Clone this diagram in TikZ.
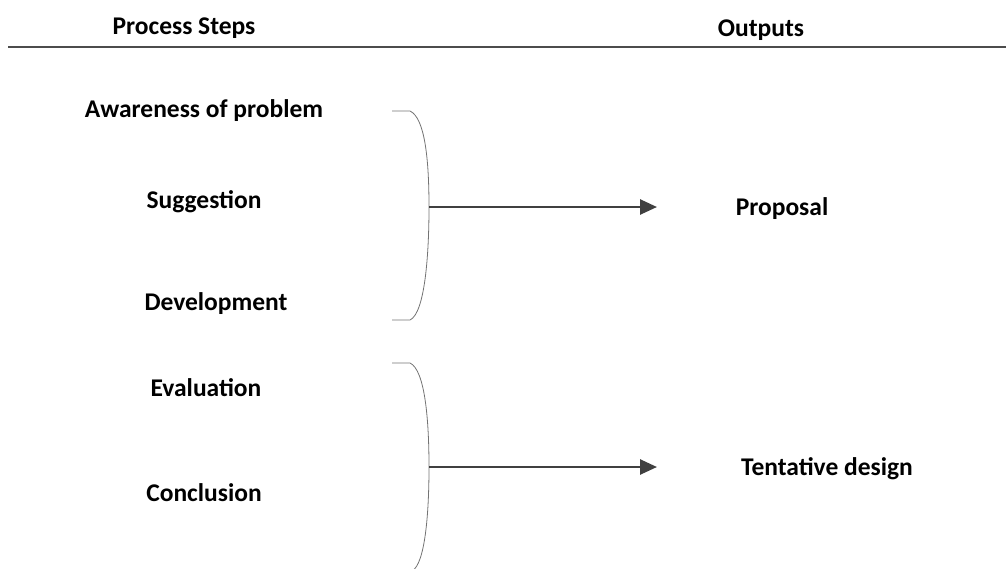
\documentclass[tikz,border=0pt]{standalone}
\usepackage{fontspec}
\setmainfont{Carlito}
\usetikzlibrary{positioning, arrows.meta}

\begin{document}
\begin{tikzpicture}[x=1pt, y=-1pt, every node/.style={font=\bfseries\fontsize{25.5}{30}\selectfont, inner sep=0pt, anchor=base}]
  \useasboundingbox (0,0) rectangle (1006,568);
  \clip (0,0) rectangle (1006,568);
  % headings
  \node (steps) at (184,34) {Process Steps};
  \node (outs) at (761,36) {Outputs};
  \draw[line width=2pt, black!70] (8,46.5) -- (1006,46.5);
  % process steps
  \node (aware) at (204,117) {Awareness of problem};
  \node (sugg) at (204,208) {Suggestion};
  \node (dev) at (216,310) {Development};
  \node (eval) at (206,396) {Evaluation};
  \node (concl) at (204,501) {Conclusion};
  % outputs
  \node (prop) at (782,215) {Proposal};
  \node (tent) at (827,475) {Tentative design};
  % braces
  \draw[black!55, line width=0.8pt] (392,111) -- (410,111) .. controls (425,118) and (429,160) .. (429,207)
    coordinate (b1) .. controls (429,254) and (425,313) .. (410,320) -- (392,320);
  \draw[black!55, line width=0.8pt] (392,363) -- (410,363) .. controls (425,370) and (429,420) .. (429,467)
    coordinate (b2) .. controls (429,514) and (425,564) .. (412,571);
  \coordinate (e1) at (657,207);
  \coordinate (e2) at (657,467);
  \draw[-{Triangle[length=17pt,width=15pt]}, line width=2.6pt, black!75] (b1) -- (e1);
  \draw[-{Triangle[length=17pt,width=15pt]}, line width=2.6pt, black!75] (b2) -- (e2);
\end{tikzpicture}
\end{document}
